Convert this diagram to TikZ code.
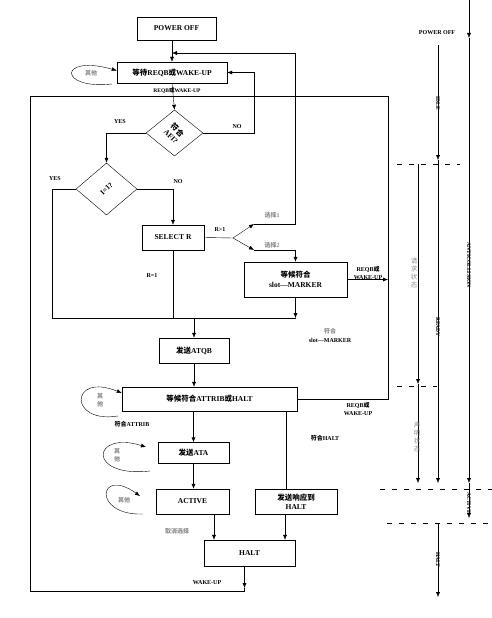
\documentclass[tikz,border=0pt]{standalone}
\usepackage{fontspec}
\setmainfont{Liberation Serif}
\newfontfamily\cjk{Noto Sans CJK SC}
\usetikzlibrary{shapes.geometric,arrows.meta}
\newcommand{\zh}[1]{{\cjk #1}}

\begin{document}
\begin{tikzpicture}[x=1pt,y=-1pt,>={Latex[length=5pt,width=4pt]},
   every node/.style={font=\fontsize{7.5}{9.5}\selectfont\bfseries},
   box/.style={draw,rectangle,inner sep=0pt,align=center},
   dec/.style={draw,diamond,inner sep=0pt},
   lab/.style={font=\fontsize{6}{7.5}\selectfont\bfseries,inner sep=1pt,align=center},
   faint/.style={lab,text=black!45},
   vlab/.style={lab,font=\fontsize{5.5}{6}\selectfont\bfseries,rotate=-90},
   stack/.style={faint,font=\fontsize{6.5}{8}\selectfont},
   timeline/.style={dashed,dash pattern=on 5pt off 7pt}]
   \useasboundingbox (0,0) rectangle (492,618);

   % main flow
   \node[box,minimum width=79,minimum height=23] (power) at (176.5,28.5) {POWER OFF};
   \node[box,minimum width=110,minimum height=21] (wait) at (172,72.5) {\zh{等待}REQB\zh{或}WAKE-UP};
   \node[dec,minimum width=57,minimum height=46] (afi) at (174.5,133) {\rotatebox{-45}{\shortstack{\zh{符合}\\AFI?}}};
   \node[dec,minimum width=61,minimum height=52] (one) at (106.5,189) {\rotatebox{45}{I=1?}};
   \node[box,minimum width=62,minimum height=25] (sel) at (173,237.5) {SELECT R};
   \node[box,minimum width=103,minimum height=35] (mark) at (295.5,279.5) {\zh{等候符合}\\slot—MARKER};
   \node[box,minimum width=70,minimum height=25] (atqb) at (194,350.5) {\zh{发送}ATQB};
   \node[box,minimum width=175,minimum height=24] (attrib) at (209.5,399) {\zh{等候符合}ATTRIB\zh{或}HALT};
   \node[box,minimum width=71,minimum height=21] (ata) at (193.5,453) {\zh{发送}ATA};
   \node[box,minimum width=73,minimum height=25] (active) at (192.5,501.5) {ACTIVE};
   \node[box,minimum width=82,minimum height=25] (resp) at (296,501.5) {\zh{发送响应到}\\HALT};
   \node[box,minimum width=91,minimum height=26] (halt) at (249.5,553) {HALT};

   % bends and free ends
   \coordinate (top) at (172,53);
   \coordinate (ret) at (295,53);
   \coordinate (no1) at (254,133);
   \coordinate (j) at (233,238);
   \coordinate (sel1) at (254,224);
   \coordinate (sel2) at (254,250);
   \coordinate (busL) at (52,318);
   \coordinate (busR) at (295.5,318);
   \coordinate (join) at (172,96);
   \coordinate (frameR) at (388,399);
   \coordinate (markR) at (388,279.5);
   \coordinate (haltdown) at (244.5,588);
   \coordinate (frameB) at (30,591);
   \coordinate (hx) at (286,0);
   \coordinate (rx) at (285,0);
   \coordinate (ax) at (214,0);

   \draw[->] (power.south -| wait.north) -- (wait.north);
   \draw[->] (wait.south) -- (afi.north);
   \draw[->] (afi.east) -- (no1) |- (wait.east);
   \draw[->] (afi.west) -| (one.north);
   \draw (one.west) -| (busL) -- (busR);
   \draw[->] (one.east) -| (sel.north);
   \draw (sel.east) -- (j);
   \draw[->] (j) -- (sel1);
   \draw[->] (sel1) -| (ret) -- (top);
   \draw[->] (j) -- (sel2);
   \draw[->] (sel2) -| (mark.north);
   \draw (sel.south) -- (sel.south |- busL);
   \draw[->] (mark.south) -- (busR);
   \draw[->] (mark.east) -- (markR);
   \draw[->] (atqb.north |- busL) -- (atqb.north);
   \draw[->] (atqb.south) -- (atqb.south |- attrib.north);
   \draw (attrib.east) -- (frameR) |- (join);
   \draw[->] (attrib.south -| ata.north) -- (ata.north);
   \draw[->] (ata.south) -- (ata.south |- active.north);
   \draw (attrib.south -| hx) -- (resp.north -| hx);
   \draw[->] (resp.south -| rx) -- (halt.north -| rx);
   \draw[->] (active.south -| ax) -- (halt.north -| ax);
   \draw[->] (halt.south -| haltdown) -- (haltdown);
   \draw (haltdown) |- (frameB) |- (join);

   % self loops
   \coordinate (loopA) at (112,84);
   \coordinate (loopB) at (118,416);
   \coordinate (loopC) at (150,471);
   \coordinate (loopCend) at (146,447);
   \coordinate (loopD) at (143,514);
   \coordinate (loopDend) at (140,496);
   \draw[->] (loopA) .. controls (58,90) and (58,54) .. ([yshift=2pt]wait.west);
   \draw[->] (loopB) .. controls (68,424) and (70,372) .. ([yshift=6pt]attrib.west);
   \draw[->] (loopC) .. controls (86,478) and (92,430) .. (loopCend);
   \draw[->] (loopD) .. controls (92,516) and (98,466) .. (loopDend);

   % labels
   \node[faint] (other1) at (91,73) {\zh{其他}};
   \node[faint] (other2) at (100,400) {\zh{其}\\\zh{他}};
   \node[faint] (other3) at (117,455) {\zh{其}\\\zh{他}};
   \node[faint] (other4) at (124,500) {\zh{其他}};
   \node[lab,font=\fontsize{5.5}{6}\selectfont\bfseries] (reqb1) at (177,91) {REQB\zh{或}WAKE-UP};
   \node[lab] (yes1) at (120,122) {YES};
   \node[lab] (no1l) at (237,127) {NO};
   \node[lab] (yes2) at (55,179) {YES};
   \node[lab] (no2) at (178,182) {NO};
   \node[lab] (rgt) at (220,230) {R>1};
   \node[faint] (pick1) at (272,215) {\zh{选择}1};
   \node[faint] (pick2) at (272,245) {\zh{选择}2};
   \node[lab] (req) at (152,276) {R=1};
   \node[lab] (reqb2) at (368,273) {REQB\zh{或}\\WAKE-UP};
   \node[faint] (match1) at (330,331) {\zh{符合}};
   \node[lab] (match2) at (330,340) {slot—MARKER};
   \node[lab] (reqb3) at (358,409) {REQB\zh{或}\\WAKE-UP};
   \node[lab] (attr) at (132,424) {\zh{符合}ATTRIB};
   \node[lab] (hlt) at (325,438) {\zh{符合}HALT};
   \node[faint] (desel) at (177,531) {\zh{取消选择}};
   \node[lab] (wake) at (207,583) {WAKE-UP};

   % state column
   \node[lab] (poff) at (437,33) {POWER OFF};
   \coordinate (a0) at (469,0);
   \coordinate (a1) at (469,38);
   \coordinate (a2) at (469,483);
   \coordinate (a3) at (469,518);
   \coordinate (b0) at (438,45);
   \coordinate (b1) at (438,160);
   \coordinate (b2) at (438,483);
   \coordinate (b3) at (438,523);
   \coordinate (b4) at (438,597);
   \coordinate (c0) at (418,164);
   \coordinate (c1) at (418,384);
   \coordinate (c2) at (418,483);
   \draw[->] (a0) -- (a1);
   \draw[->] (a1) -- (a2);
   \draw[->] (a2) -- (a3);
   \draw[->] (b0) -- (b1);
   \draw[->] (b1) -- (b2);
   \draw[->] (b3) -- (b4);
   \draw[->] (c0) -- (c1);
   \draw[->] (c1) -- (c2);
   \foreach \y/\xa/\xb in {164/397/460, 386/397/437, 489/380/492, 523/387/492}
      \draw[timeline] (\xa,\y) -- (\xb,\y);
   \node[vlab] (idle) at (438,103) {IDLE};
   \node[vlab] (ready) at (438,327) {READY};
   \node[vlab] (anti) at (469,265) {ANTICOLLISION};
   \node[vlab] (act) at (469,503) {ACTIVE};
   \node[vlab] (hlts) at (438,560) {HALT};
   \node[stack,align=center] (reqd) at (414,273) {\zh{请}\\\zh{求}\\\zh{状}\\\zh{态}};
   \node[stack,align=center] (decl) at (417,437) {\zh{声}\\\zh{明}\\\zh{状}\\\zh{态}};
\end{tikzpicture}
\end{document}
